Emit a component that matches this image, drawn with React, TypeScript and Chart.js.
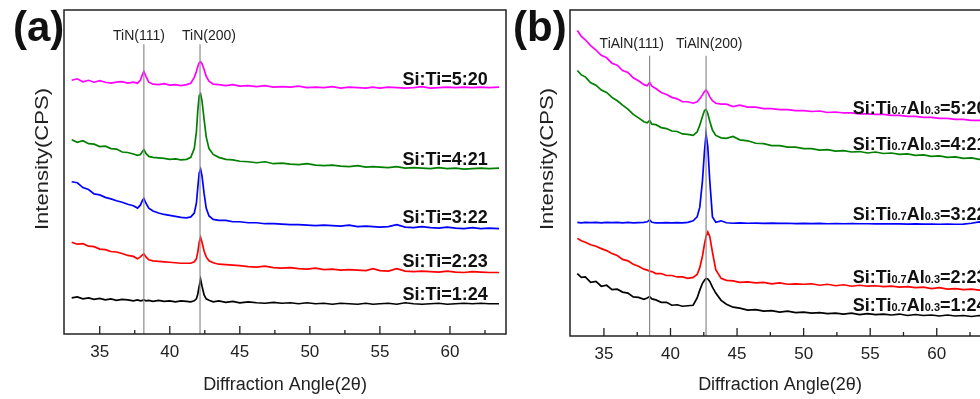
import React, { useEffect, useRef } from "react";
import { Chart, registerables } from "chart.js";

Chart.register(...registerables);

const FONT = "'Liberation Sans', Arial, Helvetica, sans-serif";

// ---------- shared axis data ----------
const xMin = 32.45;
const xMax = 64;
const majorTicks = [35, 40, 45, 50, 55, 60];
const minorTicks = [37.5, 42.5, 47.5, 52.5, 57.5, 62.5];
const xTitle = "Diffraction Angle(2θ)";
const yTitle = "Intensity(CPS)";

// ---------- panel (a): Si:Ti ----------
const xA = [
  33.0, 33.4, 33.8, 34.2, 34.6, 35.0, 35.4, 35.8, 36.2, 36.6,
  37.0, 37.4, 37.7, 37.9, 38.05, 38.15, 38.3, 38.5, 38.8, 39.2,
  39.6, 40.0, 40.4, 40.8, 41.2, 41.5, 41.75, 41.9, 42.0, 42.1,
  42.2, 42.3, 42.45, 42.6, 42.8, 43.1, 43.5, 44.0, 44.5, 45.0,
  45.6, 46.2, 46.8, 47.4, 48.0, 48.6, 49.2, 49.8, 50.4, 51.0,
  51.6, 52.2, 52.8, 53.4, 54.0, 54.5, 55.0, 55.6, 56.2, 56.8,
  57.4, 58.0, 58.6, 59.2, 59.8, 60.4, 61.0, 61.6, 62.2, 62.8,
  63.5,
];
const a520 = [
  260, 261.5, 258.5, 260, 258, 259.5, 258, 257, 258, 258.5,
  257, 258, 257, 260, 266, 269, 264, 258, 256, 255.5,
  256.5, 255, 255.5, 254.5, 255.5, 257, 263, 269, 274, 278,
  279, 277, 271, 264, 259, 256, 255.5, 254.5, 255.5, 254,
  254.5, 253.5, 254.5, 253, 253.5, 253, 254, 252.5, 253, 252.5,
  253.5, 252, 253, 252.5, 252, 253, 252, 253, 252.5, 252,
  252.5, 253.5, 252, 252.5, 253, 252.5, 253, 252.5, 253, 252.5,
  253,
];
const a421 = [
  199, 196.5, 198, 195, 194.5, 192, 192.5, 190, 189.5, 186.5,
  186, 184.5, 183, 184, 187, 189, 185, 182, 181, 180.5,
  180, 179, 179.5, 178.5, 179, 181, 190, 207, 229, 244,
  246, 239, 220, 202, 190, 184, 181, 179, 178.5, 177,
  176.5, 175.5, 176.5, 174.5, 175, 174, 173.5, 174.5, 173, 172.5,
  173, 172, 171.5, 172.5, 171, 171.5, 171, 170.5, 171.5, 170,
  170.5, 170, 169.5, 170.5, 169.5, 170, 169, 169.5, 170, 169.5,
  170,
];
const a322 = [
  156, 155, 150, 148, 143.5, 142.5, 140, 138.5, 136.5, 135,
  133, 131.5, 129, 132, 137, 139, 134, 129, 126, 124,
  122.5, 121.5, 120.5, 119.5, 119, 120, 124, 134, 150, 165,
  169, 162, 144, 129, 121, 117.5, 116.5, 116.5, 115, 115,
  114, 114, 113, 113, 112.5, 112, 112, 111.5, 111, 111.5,
  111, 110.5, 111.5, 110, 110.5, 110, 109.5, 110, 112, 109.5,
  109, 110, 109, 108.5, 109.5, 108.5, 108, 109, 108, 108.5,
  108,
];
const a223 = [
  94, 92, 92.5, 90, 89.5, 87, 86.5, 84.5, 84, 82.5,
  80.5, 79.5, 77, 79, 81, 82, 79, 76, 75, 74.5,
  74, 73.5, 73, 72.5, 72.5, 72.5, 74, 77, 84, 94,
  99, 94, 85, 79, 75, 73, 71.5, 71, 70.5, 70,
  69, 68.5, 69.5, 68, 67.5, 68, 67, 66.5, 67.5, 66,
  66.5, 65.5, 66, 65.5, 65, 67, 65, 64.5, 67, 64.5,
  64, 64.5, 64, 63.5, 64.5, 63.5, 63, 64, 63.5, 63,
  63,
];
const a124 = [
  37, 38, 36, 37, 35.5, 36.5, 35, 36, 34.5, 35.5,
  35, 34, 35, 34, 34.5, 35, 34, 34.5, 33.5, 34.5,
  33.5, 34, 33, 34, 33.5, 33, 34, 36, 41, 49,
  56, 49, 40, 36, 34.5, 33, 34, 32.5, 33.5, 32,
  33, 32, 31.5, 32.5, 31.5, 32, 31, 32, 31, 31.5,
  30.5, 31.5, 31, 30.5, 31.5, 30.5, 31, 31.5, 30.5, 32,
  31, 30.5, 31, 31.5, 30.5, 31, 31.5, 31, 31.5, 31,
  31,
];
const namesA = ["Si:Ti=5:20", "Si:Ti=4:21", "Si:Ti=3:22", "Si:Ti=2:23", "Si:Ti=1:24"];
const labelYA = [262, 180, 120, 75, 42];
const labelXA = 62.7;
const peakNamesA = ["TiN(111)", "TiN(200)"];
const peakLabelXA = [37.8, 42.8];
const peakLabelYA = 305;
const peakLinesA = [38.15, 42.16];
const peakLineTopA = 297;
const yMaxA = 332;

// ---------- panel (b): Si:Ti0.7Al0.3 ----------
const xB = [
  33.0, 33.3, 33.6, 34.0, 34.4, 34.8, 35.2, 35.6, 36.0, 36.4,
  36.8, 37.2, 37.6, 38.0, 38.25, 38.43, 38.6, 38.9, 39.3, 39.7,
  40.1, 40.5, 40.9, 41.3, 41.7, 42.0, 42.2, 42.4, 42.55, 42.67,
  42.8, 42.95, 43.15, 43.4, 43.8, 44.2, 44.7, 45.2, 45.8, 46.4,
  47.0, 47.6, 48.2, 48.8, 49.4, 50.0, 50.6, 51.2, 51.8, 52.4,
  53.0, 53.6, 54.2, 54.8, 55.4, 56.0, 56.6, 57.2, 57.8, 58.4,
  59.0, 59.6, 60.2, 60.8, 61.4, 62.0, 62.6, 63.2, 63.8,
];
const b520 = [
  313, 307, 303.5, 297.5, 293, 287.5, 285, 279.5, 277.5, 272,
  270, 264.5, 261.5, 257.5, 256.5, 260, 256, 253.5, 249.5, 247.5,
  244.5, 243, 240, 240, 238.5, 240, 243, 247, 250.5, 252,
  249.5, 245, 241, 238.5, 237.5, 237.5, 235, 236.5, 234.5, 234.5,
  233, 233, 232, 232, 231, 231, 230, 230.5, 229, 229.5,
  228.5, 228.5, 227.5, 227.5, 227, 227, 226, 226, 225, 225,
  224, 224, 223, 223, 222, 222, 221, 221, 220,
];
const b421 = [
  272, 267.5, 265.5, 259.5, 257, 252, 249.5, 244.5, 241, 236.5,
  232.5, 227, 223.5, 219.5, 218.5, 221, 217, 216.5, 213.5, 212.5,
  210, 209.5, 207, 206.5, 205.5, 209, 216, 225, 231, 232,
  228, 220, 211, 205.5, 203, 202.5, 204.5, 201, 200, 197.5,
  197, 195, 195, 193.5, 193.5, 192, 192, 190.5, 191, 189.5,
  190, 188.5, 189, 187.5, 188.5, 187, 187.5, 186, 186.5, 185,
  185.5, 184, 184.5, 183, 183.5, 182, 182.5, 181, 181.5,
];
const b322 = [
  116.5, 116, 116.5, 116.2, 116.5, 116, 116.5, 116.2, 116.5, 116,
  116.5, 116, 116.2, 116.5, 117, 119, 116.5, 116, 116, 116.2,
  116, 116.2, 116, 116.5, 118, 122, 132, 159, 189, 207,
  194, 159, 122, 116.5, 118, 116, 115.5, 115.8, 115.5, 115.7,
  115.4, 115.6, 115.3, 115.5, 115.2, 115.4, 115.2, 115.3, 115, 115.2,
  115, 115.1, 115, 115, 114.8, 115, 114.8, 114.9, 114.7, 114.8,
  114.6, 114.7, 114.5, 114.7, 114.5, 114.6, 115.5, 117, 115.5,
];
const b223 = [
  100, 97.5, 96, 93.5, 92, 89.5, 87.5, 84.5, 82.5, 78.5,
  77, 73.5, 71.5, 68.5, 67.5, 66.5, 66, 64, 64, 62,
  62, 60.5, 60.5, 59, 60, 63, 70, 82, 94, 102,
  106.5, 102, 86, 68, 59, 57, 56.5, 55, 55.5, 54.5,
  55, 53.5, 54.5, 53, 53.5, 53, 53.5, 52, 53, 51.5,
  52.5, 51, 52, 51, 51.5, 50.5, 51, 50, 50.5, 49.5,
  50, 48.5, 49.5, 48, 48.5, 47.5, 48, 47, 47,
];
const b124 = [
  64, 60, 60.5, 55, 56, 51, 52, 47.5, 48, 45,
  44, 40, 39.5, 37.5, 39, 40.5, 38, 37, 34.5, 34.5,
  31.5, 32, 30.5, 31, 31.5, 39, 47, 54, 57, 59,
  58.5, 56, 50, 44, 36.5, 32.5, 29.5, 28.5, 26.5, 27,
  25.5, 26, 24.5, 25.5, 24, 24.5, 23.5, 24, 23, 23.5,
  22.5, 23.5, 22, 23, 22, 22.5, 21.5, 22.5, 21, 22,
  21, 21.5, 20.5, 21.5, 20.5, 21, 20, 21, 20,
];
const ratiosB = ["5:20", "4:21", "3:22", "2:23", "1:24"];
const labelYB = [234, 197, 126, 61, 32];
const labelXB = 53.69;
const peakNamesB = ["TiAlN(111)", "TiAlN(200)"];
const peakLabelXB = [37.09, 42.91];
const peakLabelYB = 299;
const peakLinesB = [38.43, 42.67];
const peakLineTopB = 287;
const yMaxB = 334;

const seriesColors = ["#ff00ff", "#008000", "#0000ff", "#ff0000", "#000000"];

type PanelCfg = {
  letter: string;
  letterX: number;
  xs: number[];
  series: number[][];
  yMax: number;
  peakNames: string[];
  peakLabelX: number[];
  peakLabelY: number;
  peakLines: number[];
  peakLineTop: number;
  labelX: number;
  labelY: number[];
  drawLabel: (ctx: CanvasRenderingContext2D, i: number, x: number, y: number) => void;
  padding: { left: number; right: number; top: number; bottom: number };
  titlePad: { top: number; bottom: number };
  yTitleOffset: number;
};

function drawLabelA(ctx: CanvasRenderingContext2D, i: number, x: number, y: number) {
  ctx.font = `bold 18px ${FONT}`;
  ctx.textAlign = "right";
  ctx.textBaseline = "alphabetic";
  ctx.fillText(namesA[i], x, y + 6.5);
}

function drawLabelB(ctx: CanvasRenderingContext2D, i: number, x: number, y: number) {
  const segs: [string, boolean][] = [
    ["Si:Ti", true],
    ["0.7", false],
    ["Al", true],
    ["0.3", false],
    ["=" + ratiosB[i], true],
  ];
  ctx.textAlign = "left";
  ctx.textBaseline = "alphabetic";
  let cx = x;
  for (const [t, big] of segs) {
    ctx.font = big ? `bold 18px ${FONT}` : `bold 11px ${FONT}`;
    ctx.fillText(t, cx, y + 6.5);
    cx += ctx.measureText(t).width;
  }
}

function makeChart(canvas: HTMLCanvasElement, cfg: PanelCfg) {
  const datasets: any[] = [];
  cfg.peakLines.forEach((px) => {
    datasets.push({
      data: [
        { x: px, y: 0 },
        { x: px, y: cfg.peakLineTop },
      ],
      borderColor: "#8c8c8c",
      borderWidth: 1.2,
      pointRadius: 0,
      order: -1,
    });
  });
  cfg.series.forEach((vals, si) => {
    datasets.push({
      data: cfg.xs.map((x, i) => ({ x, y: vals[i] })),
      borderColor: seriesColors[si],
      borderWidth: 1.7,
      pointRadius: 0,
      tension: 0,
      order: 1,
    });
  });

  const annot = {
    id: "annot",
    afterDraw(chart: any) {
      const ctx: CanvasRenderingContext2D = chart.ctx;
      const { left, right, top, bottom } = chart.chartArea;
      const xs = chart.scales.x;
      const ys = chart.scales.y;
      ctx.save();
      // frame
      ctx.strokeStyle = "#222";
      ctx.lineWidth = 1.5;
      ctx.strokeRect(left, top, right - left, bottom - top);
      // inward ticks
      ctx.lineWidth = 1.3;
      ctx.beginPath();
      majorTicks.forEach((v) => {
        const p = xs.getPixelForValue(v);
        ctx.moveTo(p, bottom);
        ctx.lineTo(p, bottom - 8);
      });
      minorTicks.forEach((v) => {
        const p = xs.getPixelForValue(v);
        if (p < right - 1) {
          ctx.moveTo(p, bottom);
          ctx.lineTo(p, bottom - 4);
        }
      });
      ctx.stroke();
      // peak names
      ctx.fillStyle = "#222";
      ctx.font = `14px ${FONT}`;
      ctx.textAlign = "center";
      ctx.textBaseline = "middle";
      cfg.peakNames.forEach((n, i) => {
        ctx.fillText(n, xs.getPixelForValue(cfg.peakLabelX[i]), ys.getPixelForValue(cfg.peakLabelY));
      });
      // sample labels
      ctx.fillStyle = "#111";
      cfg.labelY.forEach((v, i) => {
        cfg.drawLabel(ctx, i, xs.getPixelForValue(cfg.labelX), ys.getPixelForValue(v));
      });
      // panel letter
      ctx.fillStyle = "#111";
      ctx.font = `bold 42px ${FONT}`;
      ctx.textAlign = "left";
      ctx.textBaseline = "alphabetic";
      ctx.fillText(cfg.letter, cfg.letterX, top + 31);
      // y title
      ctx.fillStyle = "#222";
      ctx.translate(left - cfg.yTitleOffset, top + 149);
      ctx.rotate(-Math.PI / 2);
      ctx.font = `18px ${FONT}`;
      const w = ctx.measureText(yTitle).width;
      ctx.scale(142 / w, 1);
      ctx.textAlign = "center";
      ctx.textBaseline = "middle";
      ctx.fillText(yTitle, 0, 0);
      ctx.restore();
    },
  };

  return new Chart(canvas, {
    type: "line",
    data: { datasets },
    plugins: [annot],
    options: {
      animation: false,
      responsive: false,
      maintainAspectRatio: false,
      layout: { padding: cfg.padding },
      plugins: { legend: { display: false }, tooltip: { enabled: false } },
      scales: {
        x: {
          type: "linear",
          min: xMin,
          max: xMax,
          grid: { display: false, drawTicks: false },
          border: { display: false },
          afterBuildTicks: (s: any) => {
            s.ticks = majorTicks.map((v) => ({ value: v }));
          },
          ticks: {
            font: { family: FONT, size: 17 },
            color: "#222",
            padding: 8,
            autoSkip: false,
            maxRotation: 0,
            callback: (v: any) => String(v),
          },
          title: {
            display: true,
            text: xTitle,
            font: { family: FONT, size: 18 },
            color: "#222",
            padding: cfg.titlePad,
          },
        },
        y: { type: "linear", display: false, min: 0, max: cfg.yMax },
      },
    },
  });
}

const panelA: PanelCfg = {
  letter: "(a)",
  letterX: 13,
  xs: xA,
  series: [a520, a421, a322, a223, a124],
  yMax: yMaxA,
  peakNames: peakNamesA,
  peakLabelX: peakLabelXA,
  peakLabelY: peakLabelYA,
  peakLines: peakLinesA,
  peakLineTop: peakLineTopA,
  labelX: labelXA,
  labelY: labelYA,
  drawLabel: drawLabelA,
  padding: { left: 64, right: 4, top: 10, bottom: 0 },
  titlePad: { top: 4, bottom: 3 },
  yTitleOffset: 20.5,
};

const panelB: PanelCfg = {
  letter: "(b)",
  letterX: 5,
  xs: xB,
  series: [b520, b421, b322, b223, b124],
  yMax: yMaxB,
  peakNames: peakNamesB,
  peakLabelX: peakLabelXB,
  peakLabelY: peakLabelYB,
  peakLines: peakLinesB,
  peakLineTop: peakLineTopB,
  labelX: labelXB,
  labelY: labelYB,
  drawLabel: drawLabelB,
  padding: { left: 62, right: 18, top: 10, bottom: 0 },
  titlePad: { top: 2, bottom: 3 },
  yTitleOffset: 21.5,
};

export default function App() {
  const refA = useRef<HTMLCanvasElement | null>(null);
  const refB = useRef<HTMLCanvasElement | null>(null);
  useEffect(() => {
    const ca = makeChart(refA.current!, panelA);
    const cb = makeChart(refB.current!, panelB);
    return () => {
      ca.destroy();
      cb.destroy();
    };
  }, []);
  return (
    <div
      style={{
        position: "fixed",
        left: 0,
        top: 0,
        width: 980,
        height: 399,
        overflow: "hidden",
        background: "#fff",
      }}
    >
      <canvas
        ref={refA}
        width={510}
        height={399}
        style={{ position: "absolute", left: 0, top: 0, width: 510, height: 399 }}
      />
      <canvas
        ref={refB}
        width={500}
        height={399}
        style={{ position: "absolute", left: 508, top: 0, width: 500, height: 399 }}
      />
    </div>
  );
}
